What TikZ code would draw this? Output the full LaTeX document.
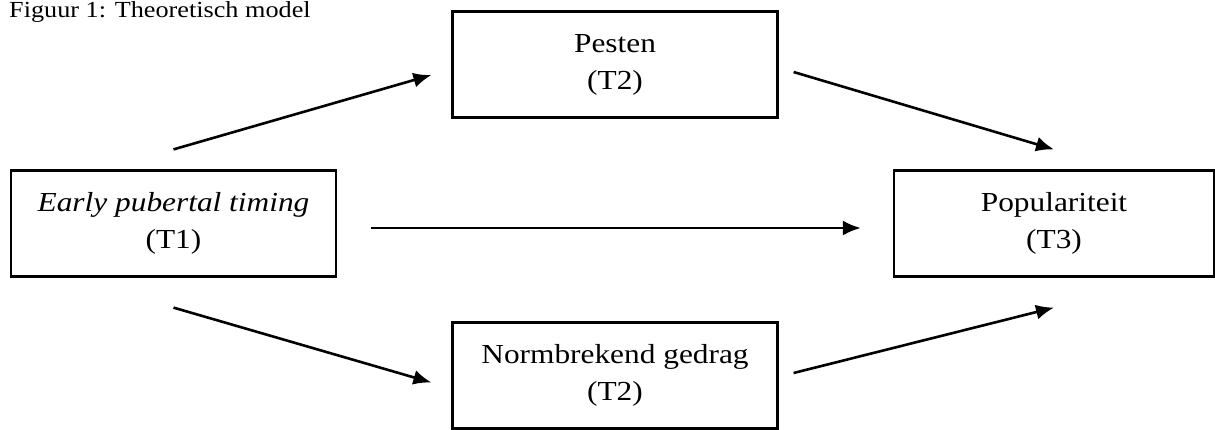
\documentclass[tikz,border=0pt]{standalone}
\usepackage{fontspec}
\setmainfont{Liberation Serif}
\usetikzlibrary{arrows.meta}

\newcommand{\wide}[1]{\scalebox{1.14}[1]{#1}}
\tikzset{
  varbox/.style={draw,line width=2.2pt,minimum width=325pt,minimum height=106pt,align=center,font=\fontsize{27.5}{37}\selectfont,inner sep=0pt},
  pad/.style={line width=2.6pt,-{Latex[length=18pt,width=15pt]}}
}

\begin{document}
\begin{tikzpicture}[x=1pt,y=-1pt]
  \useasboundingbox (0,0) rectangle (1215,429);
 % \draw[thin,gray!40] (0,0) grid[step=50] (1215,429);
  \node[anchor=base west,font=\fontsize{23}{27}\selectfont,inner sep=0pt] (titel) at (9,17) {\wide{Figuur 1: Theoretisch model}};
  \node[varbox] (timing) at (173.5,223.5) {\wide{\textit{Early pubertal timing}}\\\wide{(T1)}};
  \node[varbox] (pesten) at (615,64.5) {\wide{Pesten}\\\wide{(T2)}};
  \node[varbox] (norm) at (615,375.5) {\wide{Normbrekend gedrag}\\\wide{(T2)}};
  \node[varbox,minimum width=320pt] (pop) at (1054,223.5) {\wide{Populariteit}\\\wide{(T3)}};
   \draw[pad] ([yshift=20pt]timing.north) -- ([xshift=-20pt,yshift=-10.5pt]pesten.west);
   \draw[pad] ([xshift=15pt,yshift=-7.5pt]pesten.east) -- ([yshift=20pt]pop.north);
   \draw[pad] ([xshift=34pt,yshift=-4.5pt]timing.east) -- ([xshift=-32pt,yshift=-4.5pt]pop.west);
   \draw[pad] ([yshift=-30pt]timing.south) -- ([xshift=-20pt,yshift=-7pt]norm.west);
   \draw[pad] ([xshift=15pt,yshift=2.5pt]norm.east) -- ([yshift=-30pt]pop.south);
\end{tikzpicture}
\end{document}
